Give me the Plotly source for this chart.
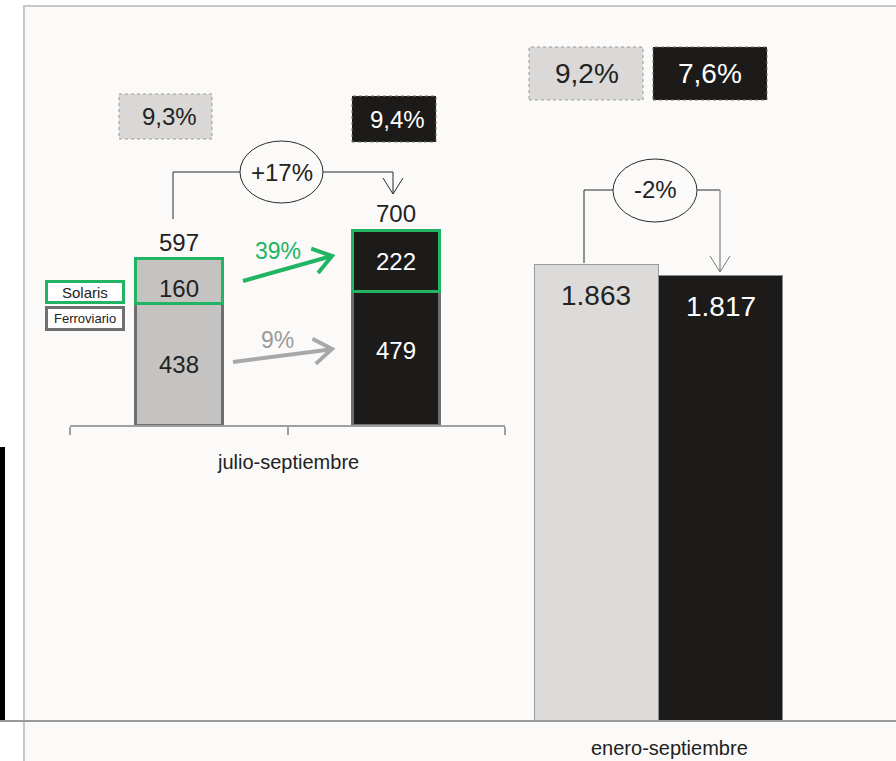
import math
import plotly.graph_objects as go

W, H = 896, 761

# ---------------- data ----------------
periods = ["Año anterior", "Año actual"]
ferroviario_q3 = [438, 479]
solaris_q3 = [160, 222]
total_q3 = [597, 700]
total_9m = [1863, 1817]
margin_q3 = ["9,3%", "9,4%"]
margin_9m = ["9,2%", "7,6%"]
growth_q3_total = "+17%"
growth_9m_total = "-2%"
growth_solaris = "39%"
growth_ferroviario = "9%"
segment_names = ["Solaris", "Ferroviario"]
panel_labels = ["julio-septiembre", "enero-septiembre"]

# ---------------- style ----------------
FONT = "Liberation Sans Narrow, Arial Narrow, Liberation Sans, Arial, sans-serif"
LIGHT = "#c4c3c2"
LIGHT2 = "#dcdbda"
DARK = "#1c1b19"
GREEN = "#21b462"
GREYB = "#6e6e6e"
BG = "#fbfaf9"
TXT = "#222222"
F_NUM = 24
F_BIG = 28
F_LAB = 20


def px(x):
    return x / W


def py(y):
    return 1 - y / H


fig = go.Figure()

# left panel: stacked bars
fig.add_trace(go.Bar(
    x=periods, y=ferroviario_q3, name=segment_names[1], xaxis="x", yaxis="y",
    marker=dict(color=[LIGHT, DARK], line=dict(color=GREYB, width=3)),
    width=0.4, showlegend=False, hoverinfo="skip"))
fig.add_trace(go.Bar(
    x=periods, y=solaris_q3, name=segment_names[0], xaxis="x", yaxis="y",
    marker=dict(color=[LIGHT, DARK], line=dict(color=GREEN, width=3)),
    width=0.4, showlegend=False, hoverinfo="skip"))

# right panel: totals for nine months
fig.add_trace(go.Bar(
    x=periods, y=total_9m, xaxis="x2", yaxis="y2",
    marker=dict(color=[LIGHT2, DARK], line=dict(color=["#9a9a9a", "#8a8a8a"], width=1.5)),
    width=1.0, showlegend=False, hoverinfo="skip"))

ann = []
shapes = []


def label(x, y, text, size, color=TXT):
    ann.append(dict(x=px(x), y=py(y), xref="paper", yref="paper", text=text, showarrow=False,
                    xanchor="center", yanchor="middle", font=dict(family=FONT, size=size, color=color)))


# background frame
shapes.append(dict(type="rect", xref="paper", yref="paper", x0=px(24), x1=px(905), y0=py(770), y1=py(6),
                   fillcolor=BG, line=dict(color="#c8c8c8", width=2), layer="below"))
shapes.append(dict(type="rect", xref="paper", yref="paper", x0=0, x1=px(5), y0=py(721), y1=py(447),
                   fillcolor="#000000", line=dict(width=0), layer="below"))
shapes.append(dict(type="line", xref="paper", yref="paper", x0=0, x1=1, y0=py(721), y1=py(721),
                   line=dict(color="#9a9a9a", width=2), layer="above"))

# values inside the stacked bars
ferro_shift = [0, 8]
sol_shift = [-7, 0]
for i, p in enumerate(periods):
    col = TXT if i == 0 else "#ffffff"
    ann.append(dict(x=p, y=ferroviario_q3[i] / 2, xref="x", yref="y", text=str(ferroviario_q3[i]),
                    showarrow=False, font=dict(family=FONT, size=F_NUM, color=col), yshift=ferro_shift[i]))
    ann.append(dict(x=p, y=ferroviario_q3[i] + solaris_q3[i] / 2, xref="x", yref="y", text=str(solaris_q3[i]),
                    showarrow=False, font=dict(family=FONT, size=F_NUM, color=col), yshift=sol_shift[i]))
    ann.append(dict(x=p, y=ferroviario_q3[i] + solaris_q3[i], xref="x", yref="y", text=str(total_q3[i]),
                    showarrow=False, yanchor="bottom", yshift=1,
                    font=dict(family=FONT, size=F_NUM, color=TXT)))
    ann.append(dict(x=p, y=total_9m[i], xref="x2", yref="y2",
                    text=f"{total_9m[i] // 1000}.{total_9m[i] % 1000:03d}",
                    showarrow=False, yanchor="middle", yshift=-31,
                    font=dict(family=FONT, size=F_BIG, color=col)))

# margin boxes
boxes = [
    (margin_q3[0], 119, 212, 94, 139, "#d9d8d7", "#9a9a9a", TXT, F_NUM, 169),
    (margin_q3[1], 352, 436, 96, 142, DARK, "#777777", "#ffffff", F_NUM, 397),
    (margin_9m[0], 529, 643, 47, 100, "#dad9d8", "#9a9a9a", TXT, F_BIG, 587),
    (margin_9m[1], 653, 767, 47, 100, DARK, "#777777", "#ffffff", F_BIG, 710),
]
for text, x0, x1, y0, y1, fill, border, tcol, fs, tx in boxes:
    shapes.append(dict(type="rect", xref="paper", yref="paper", x0=px(x0), x1=px(x1), y0=py(y1), y1=py(y0),
                       fillcolor=fill, line=dict(color=border, width=1, dash="dot"), layer="above"))
    label(tx, (y0 + y1) / 2, text, fs, tcol)

# legend boxes
leg = [
    (segment_names[0], 45, 125, 280, 304, GREEN, 15),
    (segment_names[1], 45, 125, 306, 331, "#707070", 13),
]
for text, x0, x1, y0, y1, border, fs in leg:
    shapes.append(dict(type="rect", xref="paper", yref="paper", x0=px(x0 + 1.5), x1=px(x1 - 1.5),
                       y0=py(y1 - 1.5), y1=py(y0 + 1.5),
                       fillcolor="#ffffff", line=dict(color=border, width=3), layer="above"))
    label((x0 + x1) / 2, (y0 + y1) / 2, text, fs)


def path(points):
    return "M " + " L ".join(f"{px(x)},{py(y)}" for x, y in points)


def arrow_head(x0, y0, x1, y1, length=22, ang=35):
    dx, dy = x0 - x1, y0 - y1
    d = math.hypot(dx, dy)
    ux, uy = dx / d, dy / d
    pts = []
    for s in (-1, 1):
        a = math.radians(ang * s)
        rx = ux * math.cos(a) - uy * math.sin(a)
        ry = ux * math.sin(a) + uy * math.cos(a)
        pts.append((x1 + rx * length, y1 + ry * length))
    return [pts[0], (x1, y1), pts[1]]


LINE = "#2a2a2a"
# growth brackets
shapes.append(dict(type="path", xref="paper", yref="paper", path=path([(173, 219), (173, 172), (240, 172)]),
                   line=dict(color=LINE, width=1)))
shapes.append(dict(type="path", xref="paper", yref="paper", path=path([(323, 172), (393, 172), (393, 194)]),
                   line=dict(color=LINE, width=1)))
shapes.append(dict(type="path", xref="paper", yref="paper", path=path([(383, 178), (393, 194), (403, 178)]),
                   line=dict(color=LINE, width=1)))
shapes.append(dict(type="circle", xref="paper", yref="paper", x0=px(240), x1=px(323), y0=py(203), y1=py(141),
                   line=dict(color=LINE, width=1), fillcolor=BG))
label(282, 172, growth_q3_total, F_NUM)

shapes.append(dict(type="path", xref="paper", yref="paper", path=path([(584, 263), (584, 190), (613, 190)]),
                   line=dict(color=LINE, width=1)))
shapes.append(dict(type="path", xref="paper", yref="paper", path=path([(697, 190), (720, 190)]),
                   line=dict(color=LINE, width=1)))
shapes.append(dict(type="path", xref="paper", yref="paper", path=path([(720, 190), (720, 272)]),
                   line=dict(color="#999999", width=1.5)))
shapes.append(dict(type="path", xref="paper", yref="paper", path=path([(710, 256), (720, 272), (730, 256)]),
                   line=dict(color="#777777", width=1)))
shapes.append(dict(type="circle", xref="paper", yref="paper", x0=px(613), x1=px(697), y0=py(222), y1=py(159),
                   line=dict(color=LINE, width=1), fillcolor=BG))
label(655, 190, growth_9m_total, F_NUM)

# segment growth arrows
for (x0, y0, x1, y1), col, txt, tx, ty, tcol in [
    ((243, 281, 332, 256), GREEN, growth_solaris, 278, 251, GREEN),
    ((233, 362, 332, 349), "#a8a8a8", growth_ferroviario, 277, 340, "#9a9a9a"),
]:
    shapes.append(dict(type="path", xref="paper", yref="paper", path=path([(x0, y0), (x1 - 2, y1 + 0.5)]),
                       line=dict(color=col, width=4)))
    shapes.append(dict(type="path", xref="paper", yref="paper", path=path(arrow_head(x0, y0, x1, y1)),
                       line=dict(color=col, width=4)))
    label(tx, ty, txt, F_NUM - 1, tcol)

# panel labels
label(288, 462, panel_labels[0], F_LAB)
label(669, 748, panel_labels[1], F_LAB)

S_LEFT = 3.6
S_RIGHT = 4.08
fig.update_layout(
    width=W, height=H, margin=dict(l=0, r=0, t=0, b=0),
    paper_bgcolor="#ffffff", plot_bgcolor="rgba(0,0,0,0)",
    barmode="stack",
    xaxis=dict(domain=[px(70), px(505)], type="category", range=[-0.5, 1.5], anchor="y",
               showline=True, linecolor="#a0a0a0", linewidth=2, ticks="outside", ticklen=8,
               tickcolor="#a0a0a0", tickwidth=2, tickson="boundaries", showticklabels=False,
               showgrid=False, zeroline=False, fixedrange=True),
    yaxis=dict(domain=[py(425), py(6)], range=[0, (425 - 6) * S_LEFT], visible=False, anchor="x",
               fixedrange=True),
    xaxis2=dict(domain=[px(534), px(783)], type="category", range=[-0.5, 1.5], anchor="y2",
                visible=False, fixedrange=True),
    yaxis2=dict(domain=[py(721), py(6)], range=[0, (721 - 6) * S_RIGHT], visible=False, anchor="x2",
                fixedrange=True),
    shapes=shapes, annotations=ann,
    font=dict(family=FONT, color=TXT),
)

fig.write_html("out.html", config={"displayModeBar": False},
               post_script="document.body.style.margin='0';document.body.style.overflow='hidden';")
